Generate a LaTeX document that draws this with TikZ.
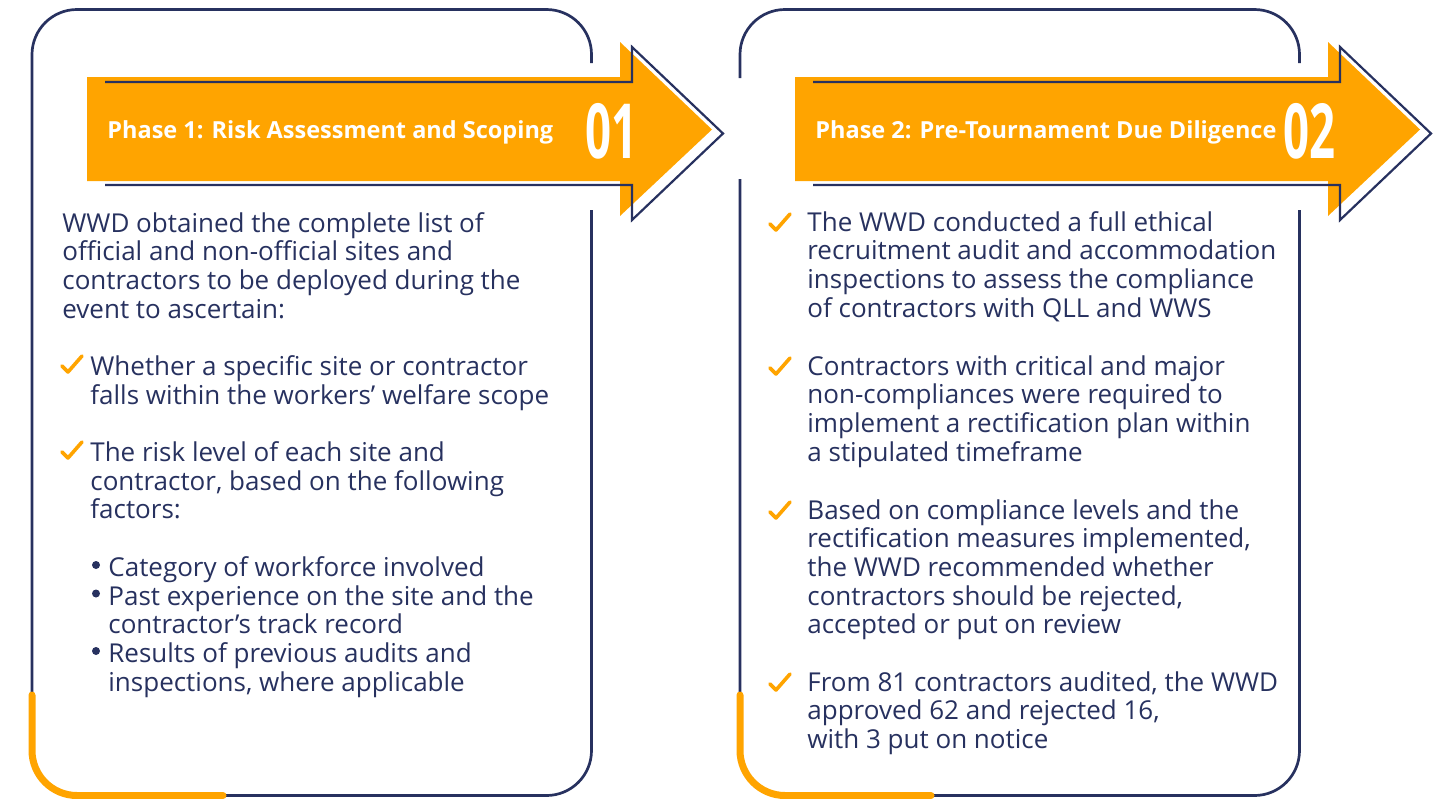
\documentclass[tikz,border=0pt]{standalone}
\usepackage{fontspec}
\usepackage{xcolor}
\usepackage{tikz}
\setmainfont{Open Sans}

\definecolor{wwdnavy}{HTML}{27315F}
\definecolor{wwdorange}{HTML}{FFA400}

\tikzset{okmark/.pic={
    \draw[wwdorange, line width=1.8pt, line cap=round, line join=round] (0,11) -- (6,17) -- (20,1);}}

\begin{document}
\begin{tikzpicture}[x=0.5pt, y=-0.5pt,
    frame/.style={draw=wwdnavy, line width=1.35pt, rounded corners=22.5pt},
    accent/.style={draw=wwdorange, line width=3.5pt, rounded corners=22.5pt, line cap=round},
    band/.style={fill=wwdorange},
    rim/.style={draw=wwdnavy, line width=1.1pt},
    title/.style={text=white, font=\bfseries\fontsize{11.75}{13}\selectfont, anchor=west, inner sep=0pt},
    num/.style={text=white, font=\bfseries\fontsize{38}{40}\selectfont, xscale=0.6, anchor=west, inner sep=0pt},
    body/.style={text=wwdnavy, font=\fontsize{13}{14.35}\selectfont, align=left, anchor=north west, inner sep=0pt},
    dot/.style={fill=wwdnavy, circle, inner sep=0pt, minimum size=4pt}]
    \useasboundingbox (0,0) rectangle (1445,798);

    % Panel frames
    \draw[frame] (591.5,63) -- (591.5,9.5) -- (32,9.5) -- (32,795.5) -- (591.5,795.5) -- (591.5,210);
    \draw[accent] (32,695) -- (32,795.5) -- (223,795.5);
    \draw[frame] (1299.5,63) -- (1299.5,9.5) -- (740,9.5) -- (740,78);
    \draw[frame] (740,179) -- (740,795.5) -- (1299.5,795.5) -- (1299.5,210);
    \draw[accent] (740,695) -- (740,795.5) -- (931,795.5);

    % Arrows
    \fill[band] (87,77) -- (620,77) -- (620,42) -- (712,129.5) -- (620,216) -- (620,181) -- (87,181) -- cycle;
    \draw[rim] (105,82) -- (632,82) -- (632,47) -- (723,133.5) -- (632,220) -- (632,185) -- (105,185);
    \fill[band] (795,77) -- (1328,77) -- (1328,42) -- (1420,129.5) -- (1328,216) -- (1328,181) -- (795,181) -- cycle;
    \draw[rim] (813,82) -- (1340,82) -- (1340,47) -- (1431,133.5) -- (1340,220) -- (1340,185) -- (813,185);

    % Headings
    \node[title] (t1) at (107,132) {Phase 1: Risk Assessment and Scoping};
    \node[num] (n1) at (585,131) {01};
    \node[title] (t2) at (815,132) {Phase 2: Pre-Tournament Due Diligence};
    \node[num] (n2) at (1283,131) {02};

    % Phase 1 text
    \node[body] (p1) at (62,212) {WWD obtained the complete list of\\official and non-official sites and\\contractors to be deployed during the\\event to ascertain:};
    \pic at (62,355) {okmark};
    \node[body] (p11) at (90,355) {Whether a specific site or contractor\\falls within the workers’ welfare scope};
    \pic at (62,441) {okmark};
    \node[body] (p12) at (90,441) {The risk level of each site and\\contractor, based on the following\\factors:};
    \node[dot] (d1) at (96,565) {};
    \node[body] (s1) at (108,556) {Category of workforce involved};
    \node[dot] (d2) at (96,593.5) {};
    \node[body] (s2) at (108,585) {Past experience on the site and the\\contractor’s track record};
    \node[dot] (d3) at (96,651) {};
    \node[body] (s3) at (108,642) {Results of previous audits and\\inspections, where applicable};

    % Phase 2 text
    \pic at (770,213) {okmark};
    \node[body] (q1) at (807,211) {The WWD conducted a full ethical\\recruitment audit and accommodation\\inspections to assess the compliance\\of contractors with QLL and WWS};
    \pic at (770,357) {okmark};
    \node[body] (q2) at (807,355) {Contractors with critical and major\\non-compliances were required to\\implement a rectification plan within\\a stipulated timeframe};
    \pic at (770,501) {okmark};
    \node[body] (q3) at (807,499) {Based on compliance levels and the\\rectification measures implemented,\\the WWD recommended whether\\contractors should be rejected,\\accepted or put on review};
    \pic at (770,673) {okmark};
    \node[body] (q4) at (807,671) {From 81 contractors audited, the WWD\\approved 62 and rejected 16,\\with 3 put on notice};

\end{tikzpicture}
\end{document}
